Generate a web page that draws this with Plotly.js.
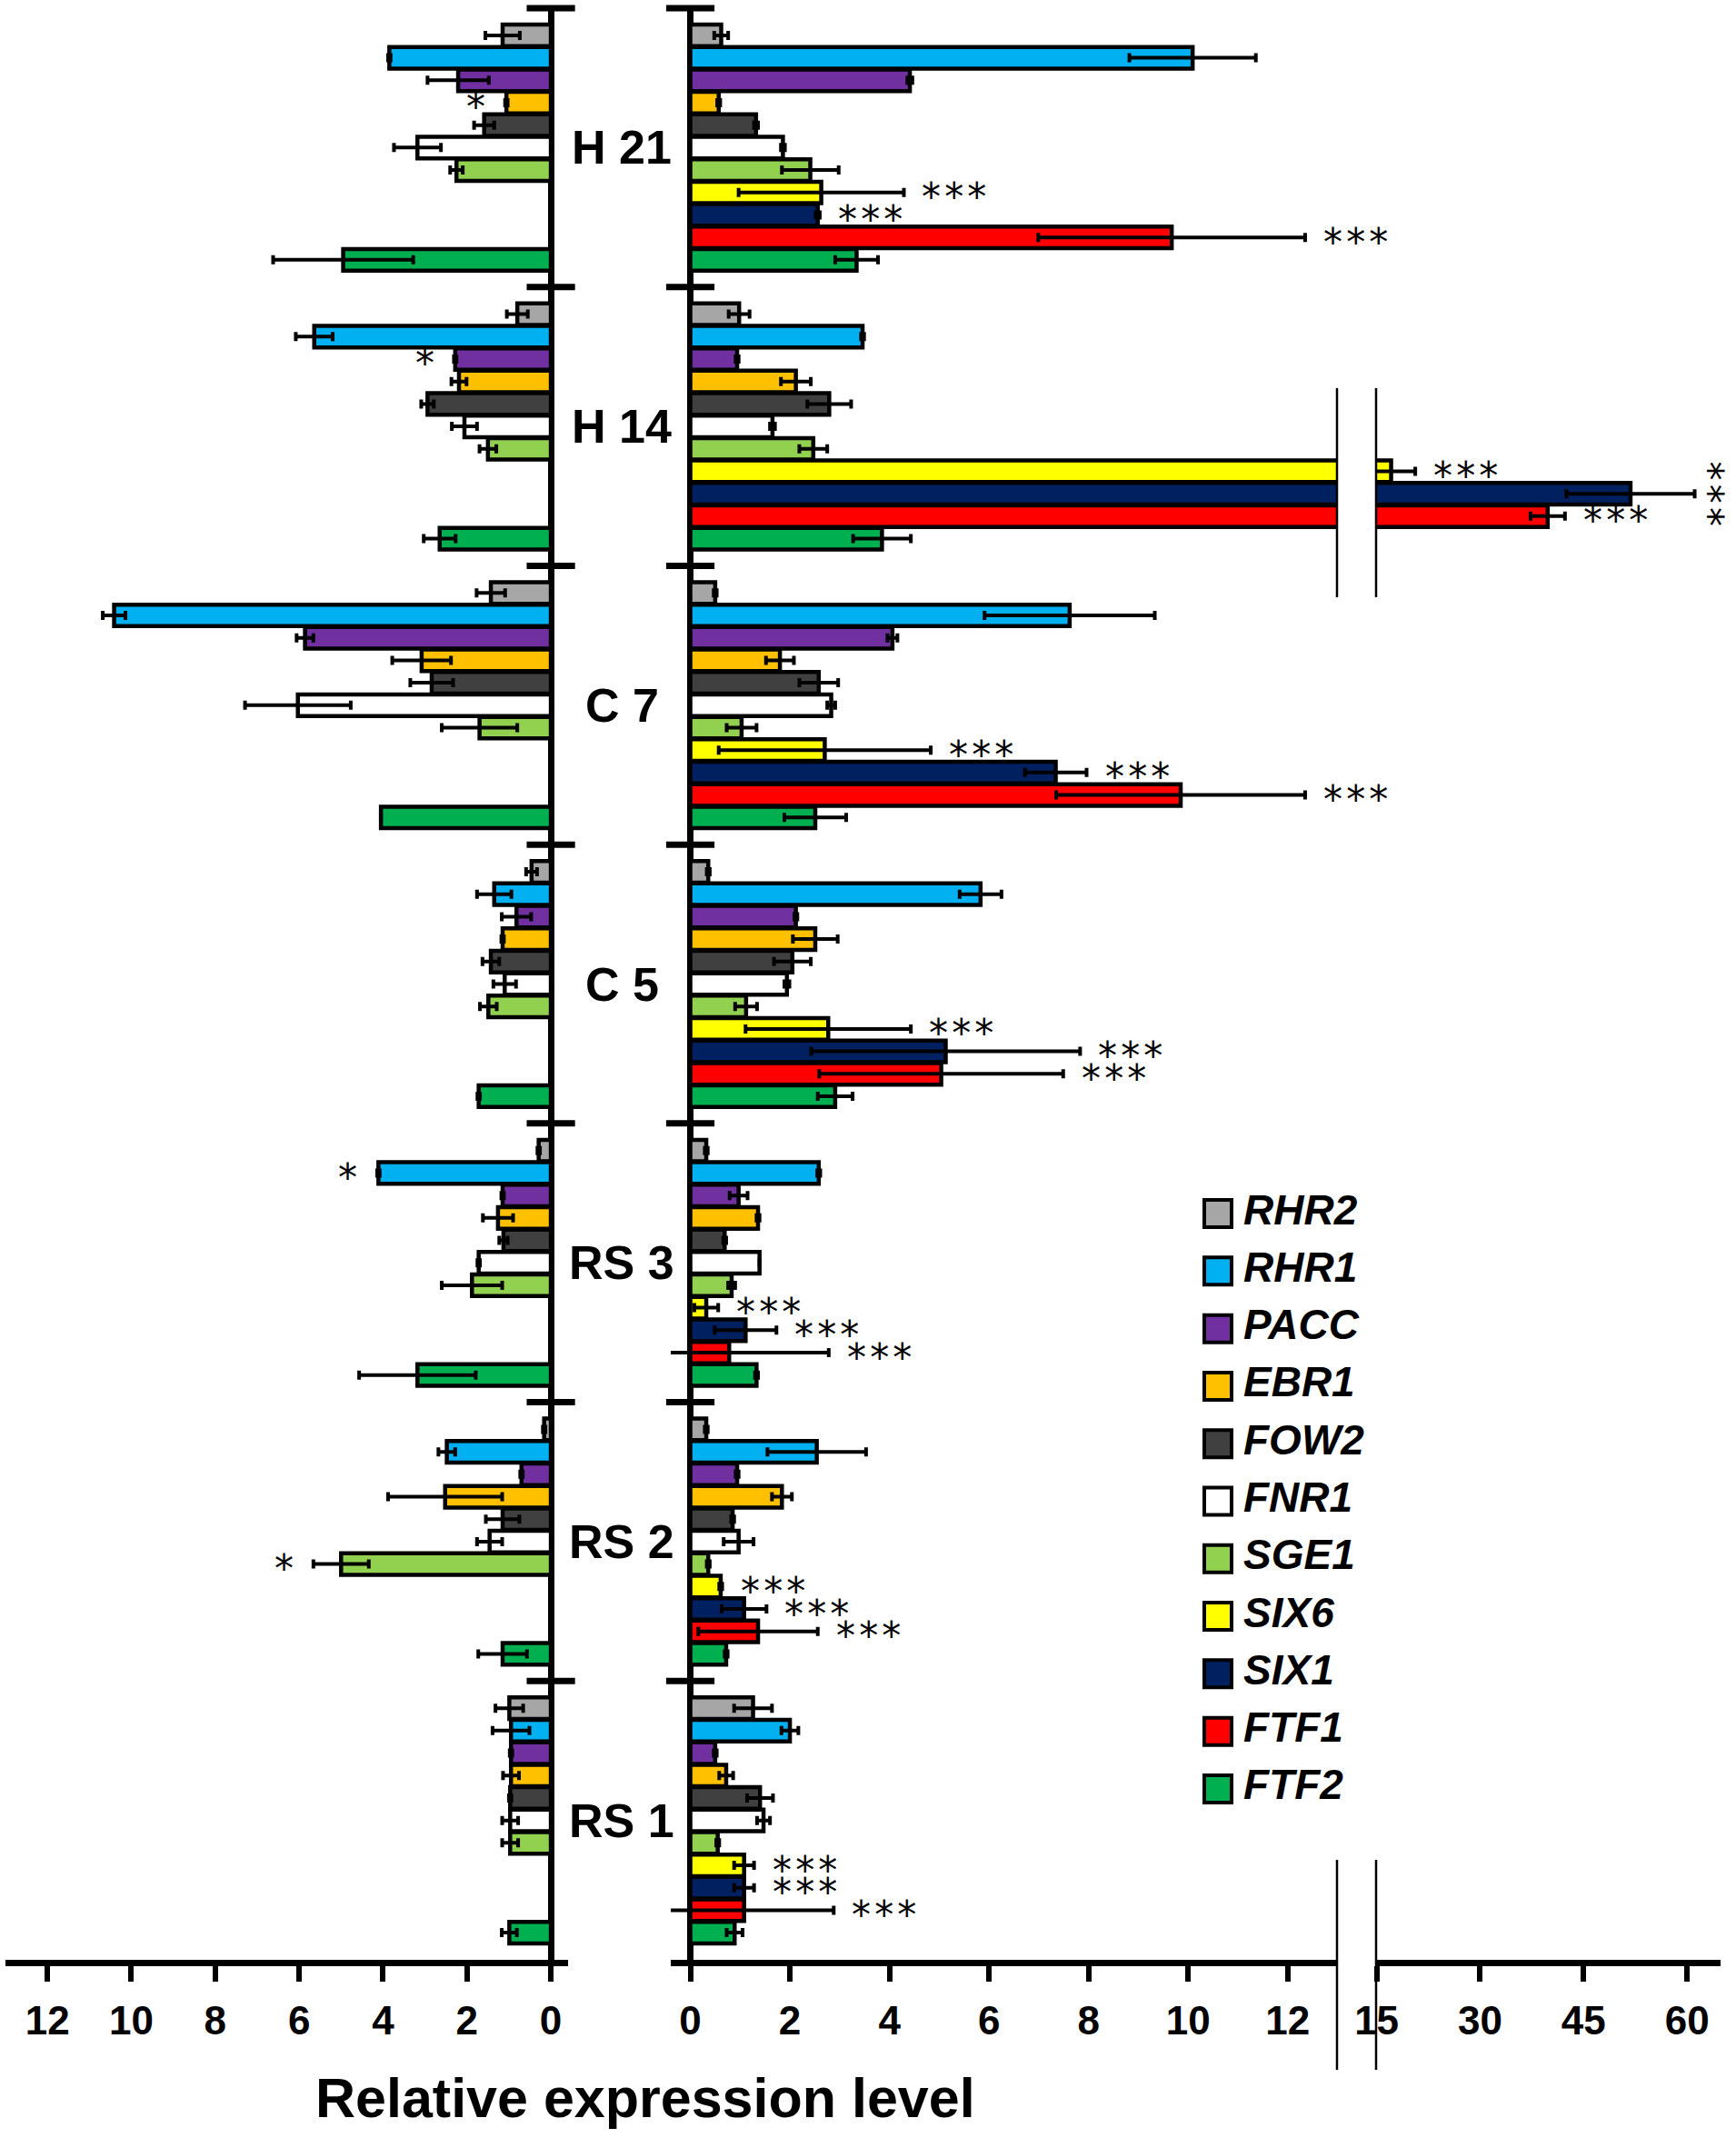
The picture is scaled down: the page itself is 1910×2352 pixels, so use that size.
<!DOCTYPE html>
<html>
<head>
<meta charset="utf-8">
<script src="https://cdn.plot.ly/plotly-3.0.1.min.js"></script>
<style>html,body{margin:0;padding:0;background:#fff;}#chart{width:1910px;height:2352px;}</style>
</head>
<body>
<div id="chart"></div>
<script>
// ---------- DATA ----------
const groups = ['H 21', 'H 14', 'C 7', 'C 5', 'RS 3', 'RS 2', 'RS 1'];
const genes = ['RHR2', 'RHR1', 'PACC', 'EBR1', 'FOW2', 'FNR1', 'SGE1', 'SIX6', 'SIX1', 'FTF1', 'FTF2'];
const geneColors = ['#A6A6A6', '#00B0F0', '#7030A0', '#FFC000', '#404040', '#FFFFFF', '#92D050', '#FFFF00', '#002060', '#FF0000', '#00B050'];

// left panel (down) values and errors, one array per group, gene order as above
const down_H21 = [1.15, 3.85, 2.21, 1.06, 1.59, 3.18, 2.25, null, null, null, 4.95];
const downErr_H21 = [0.41, 0.03, 0.73, 0.03, 0.24, 0.56, 0.15, null, null, null, 1.67];
const down_H14 = [0.80, 5.64, 2.28, 2.19, 2.94, 2.06, 1.50, null, null, null, 2.65];
const downErr_H14 = [0.25, 0.44, 0.03, 0.18, 0.15, 0.30, 0.20, null, null, null, 0.38];
const down_C7 = [1.43, 10.41, 5.86, 3.08, 2.84, 6.03, 1.70, null, null, null, 4.05];
const downErr_C7 = [0.34, 0.27, 0.20, 0.70, 0.51, 1.26, 0.90, null, null, null, 0];
const down_C5 = [0.46, 1.35, 0.82, 1.15, 1.43, 1.10, 1.49, null, null, null, 1.72];
const downErr_C5 = [0.13, 0.41, 0.35, 0.03, 0.20, 0.27, 0.20, null, null, null, 0.03];
const down_RS3 = [0.29, 4.11, 1.15, 1.26, 1.13, 1.72, 1.88, null, null, null, 3.18];
const downErr_RS3 = [0.03, 0.03, 0.03, 0.36, 0.10, 0.03, 0.72, null, null, null, 1.39];
const down_RS2 = [0.16, 2.48, 0.70, 2.52, 1.15, 1.46, 5.00, null, null, null, 1.15];
const downErr_RS2 = [0.03, 0.20, 0.03, 1.36, 0.40, 0.30, 0.66, null, null, null, 0.58];
const down_RS1 = [0.99, 0.95, 0.95, 0.95, 0.97, 0.97, 0.97, null, null, null, 0.99];
const downErr_RS1 = [0.33, 0.44, 0.03, 0.19, 0.03, 0.19, 0.19, null, null, null, 0.18];

// right panels (up) values and errors
const up_H21 = [0.62, 10.09, 4.41, 0.57, 1.32, 1.86, 2.41, 2.63, 2.56, 9.67, 3.34];
const upErr_H21 = [0.14, 1.27, 0.05, 0.03, 0.04, 0.04, 0.57, 1.66, 0.04, 2.68, 0.43];
const up_H14 = [0.98, 3.46, 0.94, 2.12, 2.79, 1.65, 2.47, 17.1, 51.8, 39.8, 3.85];
const upErr_H14 = [0.21, 0.03, 0.03, 0.30, 0.44, 0.05, 0.28, 3.5, 9.3, 2.5, 0.58];
const up_C7 = [0.50, 7.62, 4.06, 1.80, 2.58, 2.83, 1.03, 2.70, 7.34, 9.85, 2.51];
const upErr_C7 = [0.03, 1.71, 0.10, 0.28, 0.39, 0.08, 0.30, 2.13, 0.62, 2.50, 0.62];
const up_C5 = [0.36, 5.83, 2.12, 2.51, 2.05, 1.94, 1.12, 2.77, 5.13, 5.04, 2.91];
const upErr_C5 = [0.03, 0.42, 0.03, 0.45, 0.37, 0.05, 0.22, 1.66, 2.70, 2.45, 0.35];
const up_RS3 = [0.32, 2.58, 0.97, 1.36, 0.69, 1.39, 0.83, 0.32, 1.11, 0.78, 1.33];
const upErr_RS3 = [0.03, 0.03, 0.18, 0.03, 0.03, 0.0, 0.07, 0.24, 0.62, 2.00, 0.03];
const up_RS2 = [0.32, 2.54, 0.94, 1.84, 0.85, 0.97, 0.36, 0.61, 1.08, 1.36, 0.72];
const upErr_RS2 = [0.03, 0.99, 0.03, 0.20, 0.03, 0.30, 0.03, 0.03, 0.45, 1.20, 0.03];
const up_RS1 = [1.26, 2.00, 0.50, 0.72, 1.40, 1.47, 0.55, 1.08, 1.08, 1.08, 0.89];
const upErr_RS1 = [0.38, 0.17, 0.03, 0.14, 0.26, 0.13, 0.03, 0.20, 0.20, 1.80, 0.16];

// significance marks
const sigDownGroup = ['H 21', 'H 14', 'RS 3', 'RS 2'];
const sigDownGene = ['EBR1', 'PACC', 'RHR1', 'SGE1'];
const sigDownMark = ['*', '*', '*', '*'];
const sigUpGenes = ['SIX6', 'SIX1', 'FTF1'];
const sigUpMark = '***';

// axis ticks
const leftTicks = [0, 2, 4, 6, 8, 10, 12];
const midTicks = [0, 2, 4, 6, 8, 10, 12];
const rightTicks = [15, 30, 45, 60];

// ---------- BUILD ----------
const W = 1910, H = 2352;
const fx = p => p / W;
const fy = p => 1 - p / H;

const downAll = [down_H21, down_H14, down_C7, down_C5, down_RS3, down_RS2, down_RS1];
const downErrAll = [downErr_H21, downErr_H14, downErr_C7, downErr_C5, downErr_RS3, downErr_RS2, downErr_RS1];
const upAll = [up_H21, up_H14, up_C7, up_C5, up_RS3, up_RS2, up_RS1];
const upErrAll = [upErr_H21, upErr_H14, upErr_C7, upErr_C5, upErr_RS3, upErr_RS2, upErr_RS1];

const G = 12.42, PAD = 1.21;           // slots per group, padding slots
const yPos = (g, i) => g * G + PAD + i;
const MID_MAX = 13;
const leftRange = [13.0, -0.41];
const midRange = [-0.393, 12.99];
const rightRange = [14.92, 64.85];

const errStyle = {type: 'data', visible: true, color: '#000', thickness: 4, width: 5};
const traces = [];
genes.forEach((gene, i) => {
  const ys = groups.map((_, g) => yPos(g, i));
  const base = {
    type: 'bar', orientation: 'h', width: 0.96, showlegend: false, hoverinfo: 'skip',
    marker: {color: geneColors[i], line: {color: '#000', width: 4.5}}
  };
  const dv = downAll.map(a => a[i]);
  if (dv.some(v => v !== null)) {
    traces.push(Object.assign({}, base, {x: dv, y: ys, xaxis: 'x', yaxis: 'y',
      error_x: Object.assign({array: downErrAll.map(a => a[i])}, errStyle)}));
  }
  traces.push(Object.assign({}, base, {x: upAll.map(a => a[i]), y: ys, xaxis: 'x2', yaxis: 'y2',
    error_x: Object.assign({array: upErrAll.map(a => a[i])}, errStyle)}));
  const brk = upAll.map(a => a[i] > MID_MAX ? a[i] : null);
  if (brk.some(v => v !== null)) {
    traces.push(Object.assign({}, base, {x: brk, y: ys, xaxis: 'x3', yaxis: 'y3',
      error_x: Object.assign({array: upErrAll.map(a => a[i])}, errStyle)}));
  }
});

// crossing ticks on vertical axes at group boundaries
const bounds = groups.map((_, g) => g * G);
['x', 'x2'].forEach((xa, k) => {
  traces.push({type: 'scatter', mode: 'markers', x: bounds.map(() => 0), y: bounds,
    xaxis: xa, yaxis: k === 0 ? 'y' : 'y2', cliponaxis: false, hoverinfo: 'skip', showlegend: false,
    marker: {symbol: 'line-ew', size: 38, color: '#000', line: {color: '#000', width: 7}}});
});

// custom legend (big squares + labels)
traces.push({type: 'scatter', mode: 'markers', x: genes.map(() => 0), y: genes.map((_, i) => i),
  xaxis: 'x4', yaxis: 'y4', hoverinfo: 'skip', showlegend: false, cliponaxis: false,
  marker: {symbol: 'square', size: 30, color: geneColors, line: {color: '#000', width: 4}}});
traces.push({type: 'scatter', mode: 'text', x: genes.map(() => 28), y: genes.map((_, i) => i),
  xaxis: 'x4', yaxis: 'y4', text: genes, textposition: 'middle right', hoverinfo: 'skip', showlegend: false,
  cliponaxis: false,
  textfont: {family: 'Liberation Sans, Arial, sans-serif', size: 46, weight: 'bold', style: 'italic', color: '#000'}});

const annotations = [];
// group labels
groups.forEach((gname, g) => {
  annotations.push({text: gname, xref: 'paper', x: fx(684), yref: 'y', y: g * G + G / 2,
    xanchor: 'center', yanchor: 'middle', showarrow: false,
    font: {family: 'Liberation Sans, Arial, sans-serif', size: 52, weight: 'bold', color: '#000'}});
});
const starFont = {family: 'DejaVu Sans, sans-serif', size: 42, color: '#000'};
const spaced = s => s.split('').join('\u200A');
// down significance
sigDownGroup.forEach((gname, k) => {
  const g = groups.indexOf(gname), i = genes.indexOf(sigDownGene[k]);
  annotations.push({text: sigDownMark[k], xref: 'x', x: downAll[g][i] + downErrAll[g][i], yref: 'y', y: yPos(g, i),
    xanchor: 'center', yanchor: 'middle', xshift: -32, yshift: -5, showarrow: false, font: starFont});
});
// up significance
groups.forEach((gname, g) => {
  sigUpGenes.forEach(gene => {
    const i = genes.indexOf(gene);
    const end = upAll[g][i] + upErrAll[g][i];
    const onBreak = upAll[g][i] > MID_MAX;
    if (onBreak && end > 55) {
      annotations.push({text: spaced(sigUpMark), textangle: 90, xref: 'x3', x: end, yref: 'y3', y: yPos(g, i),
        xanchor: 'center', yanchor: 'middle', xshift: 16, showarrow: false, font: starFont});
    } else {
      annotations.push({text: spaced(sigUpMark), xref: onBreak ? 'x3' : 'x2', x: end, yref: 'y2', y: yPos(g, i),
        xanchor: 'left', yanchor: 'middle', xshift: 18, yshift: -5, showarrow: false, font: starFont});
    }
  });
});
// axis title
annotations.push({text: 'Relative expression level', xref: 'paper', x: fx(710), yref: 'paper', y: fy(2308),
  xanchor: 'center', yanchor: 'middle', showarrow: false,
  font: {family: 'Liberation Sans, Arial, sans-serif', size: 61, weight: 'bold', color: '#000'}});

// axis break lines
const brkLine = {color: '#000', width: 2.5};
const shapes = [];
[[427, 657], [2046, 2277]].forEach(([a, b]) => {
  shapes.push({type: 'line', xref: 'x2 domain', x0: 1, x1: 1, yref: 'paper', y0: fy(a), y1: fy(b), line: brkLine});
  shapes.push({type: 'line', xref: 'x3 domain', x0: 0, x1: 0, yref: 'paper', y0: fy(a), y1: fy(b), line: brkLine});
});

const tickFont = {family: 'Liberation Sans, Arial, sans-serif', size: 44, weight: 'bold', color: '#000'};
const xCommon = {showgrid: false, showline: true, linecolor: '#000', linewidth: 7, ticks: 'outside',
  ticklen: 17, tickwidth: 6, tickcolor: '#000', tickfont: tickFont, ticklabelstandoff: 5, fixedrange: true};
const yDomain = [fy(2156), fy(9)];
const yRange = [7 * G, 0];
const yCommon = {domain: yDomain, range: yRange, showgrid: false, showline: false, zeroline: false,
  showticklabels: false, ticks: '', fixedrange: true};

const layout = {
  width: W, height: H, margin: {l: 0, r: 0, t: 0, b: 0},
  paper_bgcolor: '#fff', plot_bgcolor: 'rgba(0,0,0,0)',
  barmode: 'overlay', showlegend: false,
  xaxis: Object.assign({}, xCommon, {domain: [fx(6), fx(625)], range: leftRange, anchor: 'y',
    tickvals: leftTicks, zeroline: true, zerolinecolor: '#000', zerolinewidth: 7}),
  xaxis2: Object.assign({}, xCommon, {domain: [fx(738), fx(1471)], range: midRange, anchor: 'y2',
    tickvals: midTicks, zeroline: true, zerolinecolor: '#000', zerolinewidth: 7}),
  xaxis3: Object.assign({}, xCommon, {domain: [fx(1514), fx(1893)], range: rightRange, anchor: 'y3',
    tickvals: rightTicks, zeroline: false}),
  yaxis: Object.assign({}, yCommon, {anchor: 'x'}),
  yaxis2: Object.assign({}, yCommon, {anchor: 'x2', matches: 'y'}),
  yaxis3: Object.assign({}, yCommon, {anchor: 'x3', matches: 'y'}),
  xaxis4: {domain: [fx(1300), fx(1700)], range: [-40, 360], visible: false, anchor: 'y4', fixedrange: true},
  yaxis4: {domain: [fy(1999.6), fy(1303.4)], range: [10.5, -0.5], visible: false, anchor: 'x4', fixedrange: true},
  annotations: annotations,
  shapes: shapes
};

Plotly.newPlot('chart', traces, layout, {displayModeBar: false, staticPlot: true});
</script>
</body>
</html>
